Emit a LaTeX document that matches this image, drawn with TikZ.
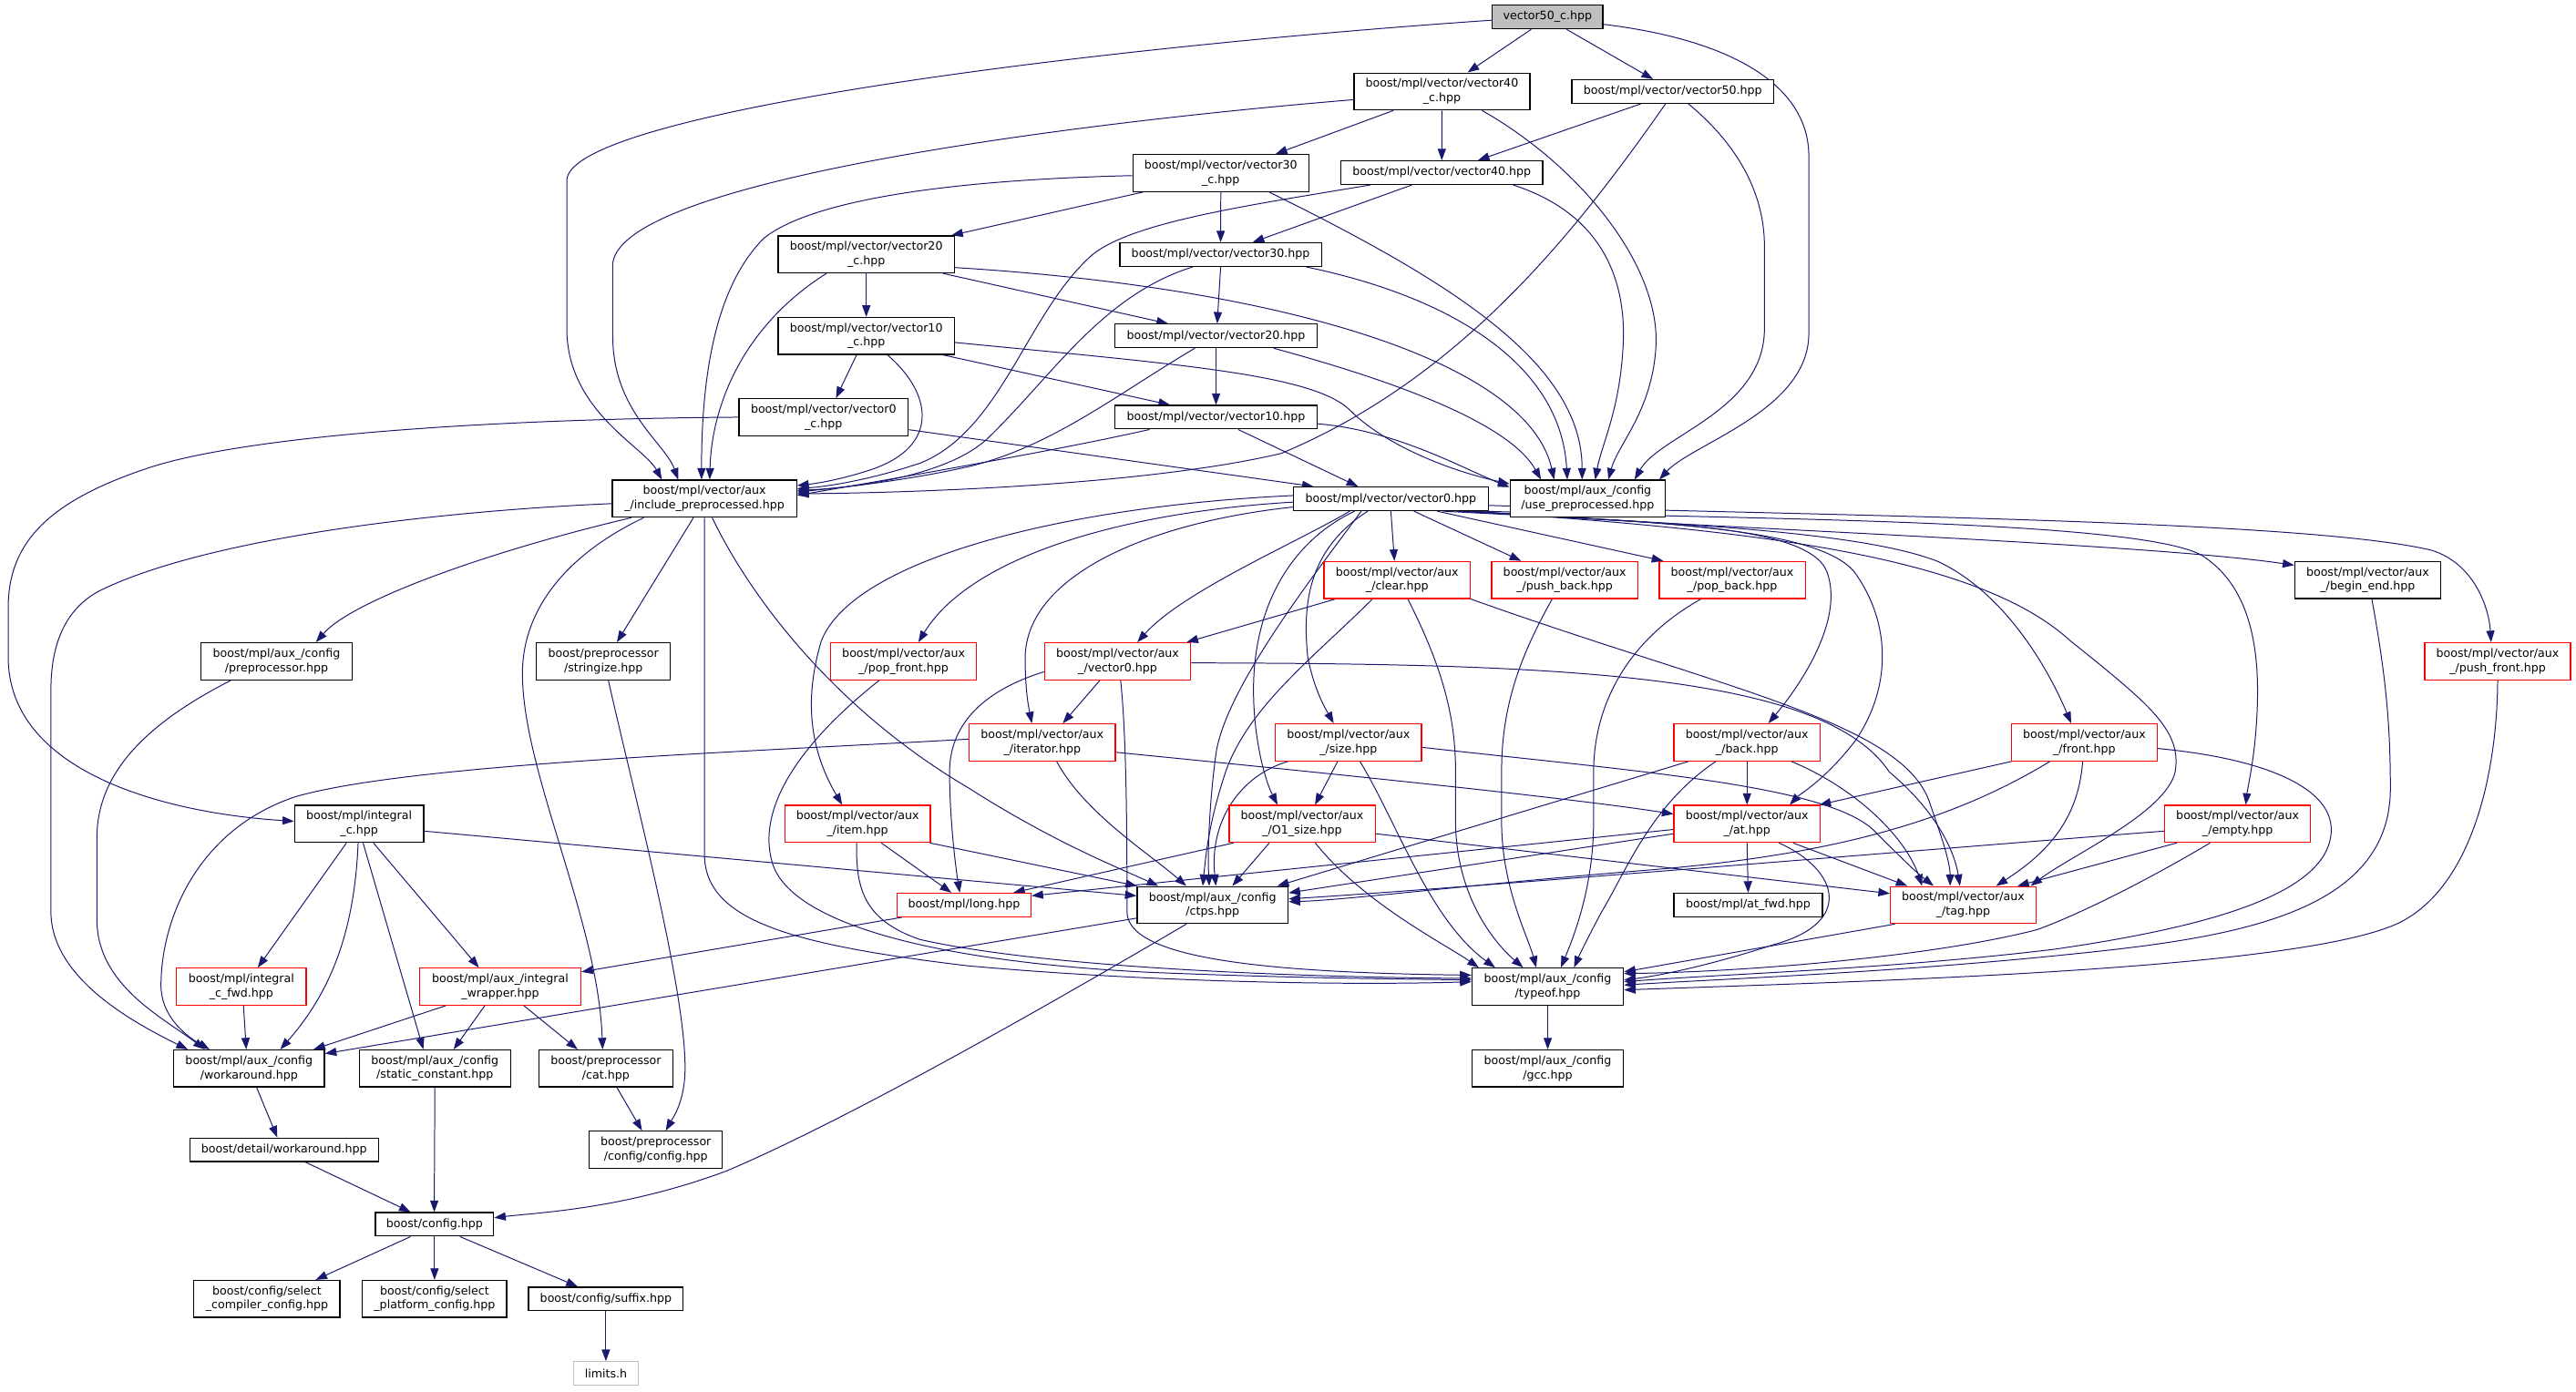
\documentclass[tikz,border=0pt]{standalone}
\usepackage{fontspec}
\newfontfamily\dv{DejaVu Sans}
\usetikzlibrary{arrows.meta,backgrounds}
\definecolor{eb}{RGB}{25,25,112}
\definecolor{rg}{RGB}{191,191,191}
\tikzset{
  nd/.style={draw=black, line width=0.7pt, fill=white, inner sep=0pt, align=center,
    font={\dv\fontsize{7pt}{8.7pt}\selectfont}, minimum height=22.5pt},
  rd/.style={nd, draw=red},
  sg/.style={minimum height=14.3pt},
  ed/.style={draw=eb, line width=0.55pt, -{Triangle[length=7pt,width=5pt]}}
}
\begin{document}
\begin{tikzpicture}[x=1pt,y=-1pt]
\useasboundingbox (0,0) rectangle (1568,847);
% ---------------- nodes ----------------
\node[nd,sg,fill=rg,minimum height=14.5pt,minimum width=67.3pt] (vc50) at (942,10.3) {vector50\_c.hpp};
\node[nd,minimum width=107pt] (vc40) at (877.7,55.7) {boost/mpl/vector/vector40\\\_c.hpp};
\node[nd,sg,minimum width=122.8pt] (v50) at (1018.2,55.7) {boost/mpl/vector/vector50.hpp};
\node[nd,minimum width=107pt] (vc30) at (743.1,105.3) {boost/mpl/vector/vector30\\\_c.hpp};
\node[nd,sg,minimum width=122.8pt] (v40) at (877.6,105.1) {boost/mpl/vector/vector40.hpp};
\node[nd,minimum width=107.3pt] (vc20) at (527.3,154.9) {boost/mpl/vector/vector20\\\_c.hpp};
\node[nd,sg,minimum width=122.8pt] (v30) at (743,155) {boost/mpl/vector/vector30.hpp};
\node[nd,minimum width=107.3pt] (vc10) at (527.3,204.5) {boost/mpl/vector/vector10\\\_c.hpp};
\node[nd,sg,minimum width=122.8pt] (v20) at (740.2,204.5) {boost/mpl/vector/vector20.hpp};
\node[nd,minimum width=103pt] (vc0) at (501.3,254) {boost/mpl/vector/vector0\\\_c.hpp};
\node[nd,sg,minimum width=122.8pt] (v10) at (740.2,254) {boost/mpl/vector/vector10.hpp};
\node[nd,minimum width=112.2pt] (ip) at (428.8,303.6) {boost/mpl/vector/aux\\\_/include\_preprocessed.hpp};
\node[nd,sg,minimum width=118.5pt] (v0) at (846.6,303.7) {boost/mpl/vector/vector0.hpp};
\node[nd,minimum width=94.4pt] (up) at (966.4,303.6) {boost/mpl/aux\_/config\\/use\_preprocessed.hpp};
\node[nd,minimum width=91.9pt] (pre) at (168.3,402.6) {boost/mpl/aux\_/config\\/preprocessor.hpp};
\node[nd,minimum width=81.6pt] (str) at (367.3,402.6) {boost/preprocessor\\/stringize.hpp};
\node[rd,minimum width=88.9pt] (pof) at (550,402.6) {boost/mpl/vector/aux\\\_/pop\_front.hpp};
\node[rd,minimum width=88.9pt] (av0) at (680.3,402.6) {boost/mpl/vector/aux\\\_/vector0.hpp};
\node[rd,minimum width=88.9pt] (clr) at (850.4,353.1) {boost/mpl/vector/aux\\\_/clear.hpp};
\node[rd,minimum width=88.9pt] (pub) at (952.4,353.1) {boost/mpl/vector/aux\\\_/push\_back.hpp};
\node[rd,minimum width=88.9pt] (pob) at (1054.4,353.1) {boost/mpl/vector/aux\\\_/pop\_back.hpp};
\node[nd,minimum width=88.8pt] (be) at (1441.2,353.1) {boost/mpl/vector/aux\\\_/begin\_end.hpp};
\node[rd,minimum width=88.8pt] (puf) at (1520.3,402.6) {boost/mpl/vector/aux\\\_/push\_front.hpp};
\node[rd,minimum width=88.9pt] (itr) at (634.4,452) {boost/mpl/vector/aux\\\_/iterator.hpp};
\node[rd,minimum width=88.9pt] (siz) at (820.8,452) {boost/mpl/vector/aux\\\_/size.hpp};
\node[rd,minimum width=88.9pt] (bck) at (1063.4,452) {boost/mpl/vector/aux\\\_/back.hpp};
\node[rd,minimum width=88.9pt] (frt) at (1268.7,452) {boost/mpl/vector/aux\\\_/front.hpp};
\node[nd,minimum width=78.6pt] (intc) at (218.6,501.6) {boost/mpl/integral\\\_c.hpp};
\node[rd,minimum width=88.6pt] (itm) at (522,501.6) {boost/mpl/vector/aux\\\_/item.hpp};
\node[rd,minimum width=88.9pt] (o1) at (792.6,501.6) {boost/mpl/vector/aux\\\_/O1\_size.hpp};
\node[rd,minimum width=88.9pt] (atn) at (1063.4,501.6) {boost/mpl/vector/aux\\\_/at.hpp};
\node[rd,minimum width=88.9pt] (emp) at (1362,501.6) {boost/mpl/vector/aux\\\_/empty.hpp};
\node[rd,sg,minimum width=81.6pt] (lng) at (586.8,551) {boost/mpl/long.hpp};
\node[nd,minimum width=91.9pt] (ctps) at (738.1,551) {boost/mpl/aux\_/config\\/ctps.hpp};
\node[nd,sg,minimum width=90.4pt] (atf) at (1064.1,551) {boost/mpl/at\_fwd.hpp};
\node[rd,minimum width=88.6pt] (tag) at (1195,551) {boost/mpl/vector/aux\\\_/tag.hpp};
\node[rd,minimum width=78.9pt] (icf) at (146.9,600.7) {boost/mpl/integral\\\_c\_fwd.hpp};
\node[rd,minimum width=98.2pt] (iw) at (304.5,600.7) {boost/mpl/aux\_/integral\\\_wrapper.hpp};
\node[nd,minimum width=92.2pt] (typ) at (942.1,600.7) {boost/mpl/aux\_/config\\/typeof.hpp};
\node[nd,minimum width=91.7pt] (ws) at (151.6,650.5) {boost/mpl/aux\_/config\\/workaround.hpp};
\node[nd,minimum width=92pt] (sc) at (264.7,650.5) {boost/mpl/aux\_/config\\/static\_constant.hpp};
\node[nd,minimum width=81.6pt] (cat) at (368.8,650.5) {boost/preprocessor\\/cat.hpp};
\node[nd,minimum width=92.2pt] (gcc) at (942.1,650.5) {boost/mpl/aux\_/config\\/gcc.hpp};
\node[nd,sg,minimum width=114.8pt] (dws) at (172.9,700) {boost/detail/workaround.hpp};
\node[nd,minimum width=81.1pt] (cfg) at (399.2,700) {boost/preprocessor\\/config/config.hpp};
\node[nd,sg,minimum width=71.9pt] (bcfg) at (264.5,745.4) {boost/config.hpp};
\node[nd,minimum width=88.9pt] (scc) at (162.5,790.8) {boost/config/select\\\_compiler\_config.hpp};
\node[nd,minimum width=87.9pt] (spc) at (264.5,790.8) {boost/config/select\\\_platform\_config.hpp};
\node[nd,sg,minimum width=94.2pt] (suf) at (368.8,790.8) {boost/config/suffix.hpp};
\node[nd,sg,draw=rg,minimum width=39.4pt] (lim) at (368.8,836.2) {limits.h};
% ---------------- edges ----------------
\begin{pgfonlayer}{background}
\fill[white] (0,0) rectangle (1568,847);
% top block
\draw[ed] ([xshift=-10pt]vc50.south) -- ([xshift=15.6pt]vc40.north);
\draw[ed] ([xshift=11.6pt]vc50.south) -- ([xshift=-12pt]v50.north);
\draw[ed] ([yshift=-4.5pt]vc50.east) .. controls (1060,25) and (1101,55) .. (1101,95) -- (1101,203) .. controls (1101,250) and (1030,270) .. ([xshift=43.6pt]up.north);
\draw[ed] ([yshift=-2pt]vc50.west) .. controls (650,30) and (345,70) .. (345,110) -- (345,200) .. controls (345,250) and (392,272) .. ([xshift=-26pt]ip.north);
\draw[ed] (vc40.south) -- (v40.north);
\draw[ed] ([xshift=-29.6pt]vc40.south) -- ([xshift=33.4pt]vc30.north);
\draw[ed] ([yshift=-5pt]vc40.west) .. controls (650,75) and (380,110) .. (373,160) -- (373,205) .. controls (373,250) and (405,270) .. ([xshift=-16pt]ip.north);
\draw[ed] ([xshift=24.4pt]vc40.south) .. controls (960,100) and (1010,160) .. (1008,210) .. controls (1006,250) and (985,270) .. ([xshift=12.6pt]up.north);
\draw[ed] ([xshift=-19.4pt]v50.south) -- ([xshift=22pt]v40.north);
\draw[ed] ([xshift=-4.4pt]v50.south) .. controls (960,140) and (890,230) .. (780,276) .. controls (700,295) and (560,300) .. ([yshift=3pt]ip.east);
\draw[ed] ([xshift=9.5pt]v50.south) .. controls (1060,90) and (1074,120) .. (1074,150) -- (1074,200) .. controls (1074,250) and (1010,265) .. ([xshift=28.6pt]up.north);
\draw[ed] ([xshift=-47.2pt]vc30.south) -- ([xshift=51.8pt]vc20.north);
\draw[ed] (vc30.south) -- (v30.north);
\draw[ed] ([yshift=-1.6pt]vc30.west) .. controls (560,110) and (490,125) .. (465,145) .. controls (435,175) and (427,230) .. ([xshift=-1.8pt]ip.north);
\draw[ed] ([xshift=29.4pt]vc30.south) .. controls (880,170) and (963,220) .. ([xshift=-3.4pt]up.north);
\draw[ed] ([xshift=-18.2pt]v40.south) -- ([xshift=19.5pt]v30.north);
\draw[ed] ([xshift=-43.4pt]v40.south) .. controls (760,125) and (690,135) .. (665,155) .. controls (625,190) and (610,262) .. (560,282) .. controls (530,292) and (505,296) .. ([yshift=6pt]ip.east);
\draw[ed] ([xshift=43.4pt]v40.south) .. controls (975,130) and (990,170) .. (988,210) .. controls (986,250) and (975,270) .. ([xshift=4.6pt]up.north);
\draw[ed] (v30.south) -- ([xshift=0.7pt]v20.north);
\draw[ed] ([xshift=-17pt]v30.south) .. controls (670,180) and (640,230) .. (600,268) .. controls (575,290) and (520,297) .. ([yshift=5pt]ip.east);
\draw[ed] ([xshift=52pt]v30.south) .. controls (880,180) and (950,220) .. ([xshift=-12.4pt]up.north);
\draw[ed] (vc20.south) -- (vc10.north);
\draw[ed] ([xshift=46.8pt]vc20.south) -- ([xshift=-29.2pt]v20.north);
\draw[ed] ([xshift=-24.3pt]vc20.south) .. controls (450,200) and (433,250) .. ([xshift=3.2pt]ip.north);
\draw[ed] ([yshift=-8pt]vc20.east) .. controls (780,175) and (930,220) .. ([xshift=-20.4pt]up.north);
\draw[ed] ([xshift=-5.9pt]vc10.south) -- ([xshift=7.5pt]vc0.north);
\draw[ed] ([xshift=46.8pt]vc10.south) -- ([xshift=-28pt]v10.north);
\draw[ed] ([xshift=12.9pt]vc10.south) .. controls (568,240) and (572,272) .. (530,286) .. controls (515,291) and (500,294) .. ([yshift=8pt]ip.east);
\draw[ed] ([yshift=-4pt]vc10.east) .. controls (720,222) and (800,228) .. (822,250) .. controls (842,270) and (880,286) .. ([yshift=9pt]up.west);
\draw[ed] (v20.south) -- (v10.north);
\draw[ed] ([xshift=-12.9pt]v20.south) .. controls (680,240) and (640,272) .. (590,284) .. controls (550,293) and (510,297) .. ([yshift=4pt]ip.east);
\draw[ed] ([xshift=35pt]v20.south) .. controls (860,235) and (920,260) .. ([xshift=-28.4pt]up.north);
\draw[ed] (vc0.west) .. controls (300,255) and (150,265) .. (90,285) .. controls (30,305) and (5,330) .. (5,370) -- (5,400) .. controls (5,470) and (100,495) .. ([yshift=1.6pt]intc.west);
\draw[ed] ([yshift=-7.6pt]vc0.east) -- ([xshift=-47pt]v0.north);
\draw[ed] ([xshift=13.5pt]v10.south) -- ([xshift=-20pt]v0.north);
\draw[ed] ([xshift=-40.5pt]v10.south) .. controls (640,275) and (540,292) .. ([yshift=2pt]ip.east);
\draw[ed] ([yshift=-4pt]v10.east) .. controls (850,262) and (890,285) .. ([yshift=7pt]up.west);
% include_preprocessed
\draw[ed] ([xshift=-44.5pt]ip.south) .. controls (300,335) and (215,365) .. ([xshift=24pt]pre.north);
\draw[ed] ([xshift=-6.7pt]ip.south) -- ([xshift=8.2pt]str.north);
\draw[ed] ([yshift=-3pt]ip.west) .. controls (250,312) and (120,330) .. (60,360) .. controls (38,372) and (31,395) .. (31,420) -- (31,555) .. controls (31,595) and (80,622) .. ([xshift=-37.3pt]ws.north);
\draw[ed] ([xshift=-37pt]ip.south) .. controls (340,340) and (318,375) .. (318,410) .. controls (318,470) and (364,560) .. ([xshift=-2pt]cat.north);
\draw[ed] (ip.south) -- (428.8,520) .. controls (428.8,560) and (480,575) .. (589,588) .. controls (700,598) and (820,600) .. ([yshift=3pt]typ.west);
\draw[ed] ([xshift=4.7pt]ip.south) .. controls (455,360) and (505,430) .. (590,480) .. controls (640,512) and (680,528) .. ([xshift=-33pt]ctps.north);
% vector0.hpp
\draw[ed] (v0.south) -- ([xshift=-1.6pt]clr.north);
\draw[ed] ([xshift=14pt]v0.south) -- ([xshift=-26.5pt]pub.north);
\draw[ed] ([xshift=28pt]v0.south) -- ([xshift=-42pt]pob.north);
\draw[ed] ([xshift=-8pt]v0.south east) .. controls (1000,320) and (1300,330) .. ([yshift=9pt]be.west);
\draw[ed] ([yshift=-4pt]v0.east) .. controls (1100,314) and (1400,316) .. (1480,335) .. controls (1506,343) and (1515,370) .. ([xshift=-4pt]puf.north);
\draw[ed] ([xshift=-20pt]v0.south east) .. controls (1000,318) and (1130,322) .. (1180,342) .. controls (1222,362) and (1248,410) .. ([xshift=-8pt]frt.north);
\draw[ed] ([xshift=-4pt]v0.south east) .. controls (1050,316) and (1300,316) .. (1340,338) .. controls (1372,358) and (1375,400) .. (1374,430) .. controls (1373,460) and (1368,480) .. ([xshift=5pt]emp.north);
\draw[ed] ([xshift=-12pt]v0.south east) .. controls (1050,322) and (1200,335) .. (1260,390) .. controls (1310,430) and (1328,445) .. (1324,470) .. controls (1318,495) and (1262,520) .. ([xshift=41pt]tag.north);
\draw[ed] ([xshift=-28pt]v0.south east) .. controls (1000,318) and (1100,318) .. (1112,348) .. controls (1122,375) and (1100,412) .. ([xshift=13pt]bck.north);
\draw[ed] ([xshift=-16pt]v0.south east) .. controls (1000,318) and (1110,320) .. (1130,350) .. controls (1152,382) and (1150,420) .. (1130,450) .. controls (1112,474) and (1095,484) .. ([xshift=26pt]atn.north);
\draw[ed] ([yshift=-2pt]v0.west) .. controls (680,312) and (590,340) .. ([xshift=9pt]pof.north);
\draw[ed] ([yshift=2pt]v0.west) .. controls (650,308) and (520,340) .. (500,390) .. controls (488,430) and (495,460) .. ([xshift=-9.4pt]itm.north);
\draw[ed] ([xshift=-25pt]v0.south) .. controls (790,330) and (720,360) .. ([xshift=12pt]av0.north);
\draw[ed] ([yshift=-5pt]v0.west) .. controls (700,318) and (625,350) .. (624,400) .. controls (624,420) and (626,430) .. ([xshift=-6.3pt]itr.north);
\draw[ed] ([xshift=-14pt]v0.south) .. controls (795,335) and (793,370) .. (796,400) .. controls (800,420) and (806,430) .. ([xshift=-9pt]siz.north);
\draw[ed] ([xshift=-22pt]v0.south) .. controls (785,330) and (763,370) .. (763,420) .. controls (763,450) and (770,475) .. ([xshift=-15pt]o1.north);
\draw[ed] ([xshift=-18pt]v0.south) .. controls (800,350) and (745,420) .. (740,460) .. controls (736,490) and (735,520) .. ([xshift=-2pt]ctps.north);
% aux_ files
\draw[ed] ([xshift=-14.8pt]pof.south) .. controls (490,450) and (460,490) .. (470,525) .. controls (480,560) and (560,585) .. (700,592) .. controls (800,596) and (860,596) .. ([yshift=4pt]typ.west);
\draw[ed] ([xshift=-10.8pt]av0.south) -- ([xshift=12.5pt]itr.north);
\draw[ed] ([yshift=-6.4pt]av0.west) .. controls (600,420) and (578,440) .. (578,470) .. controls (578,500) and (582,530) .. ([xshift=-2.6pt]lng.north);
\draw[ed] ([xshift=1.8pt]av0.south) .. controls (686,450) and (686,520) .. (686,555) .. controls (686,582) and (760,592) .. ([yshift=7pt]typ.west);
\draw[ed] ([yshift=-1pt]av0.east) .. controls (950,404) and (1110,410) .. (1150,470) .. controls (1180,495) and (1190,520) .. ([xshift=-2pt]tag.north);
\draw[ed] ([xshift=-37.5pt]clr.south) -- ([xshift=42pt]av0.north);
\draw[ed] ([xshift=-15pt]clr.south) .. controls (800,400) and (760,430) .. (746,470) .. controls (736,500) and (734,520) .. ([xshift=-6pt]ctps.north);
\draw[ed] ([xshift=6.5pt]clr.south) .. controls (880,410) and (886,440) .. (886,470) -- (886,500) .. controls (886,540) and (905,570) .. ([xshift=-15pt]typ.north);
\draw[ed] (clr.south east) .. controls (1050,420) and (1160,440) .. (1175,490) .. controls (1182,510) and (1187,525) .. ([xshift=-8pt]tag.north);
\draw[ed] ([xshift=-7.6pt]pub.south) .. controls (925,400) and (914,430) .. (914,470) -- (914,500) .. controls (914,540) and (930,570) .. ([xshift=-7pt]typ.north);
\draw[ed] ([xshift=-19pt]pob.south) .. controls (990,390) and (970,430) .. (970,470) -- (970,500) .. controls (970,540) and (958,570) .. ([xshift=8pt]typ.north);
\draw[ed] ([xshift=2.5pt]be.south) .. controls (1452,410) and (1455,440) .. (1455,480) .. controls (1455,560) and (1350,572) .. (1250,582) .. controls (1150,592) and (1050,596) .. ([yshift=1pt]typ.east);
\draw[ed] (puf.south) .. controls (1520,470) and (1505,540) .. (1460,562) .. controls (1400,590) and (1150,597) .. ([yshift=-2pt]typ.east);
\draw[ed] ([yshift=-6pt]itr.east) .. controls (800,470) and (950,485) .. ([yshift=6pt]atn.west);
\draw[ed] ([xshift=8.8pt]itr.south) .. controls (660,495) and (700,520) .. ([xshift=-16pt]ctps.north);
\draw[ed] ([yshift=2pt]itr.west) .. controls (450,458) and (250,465) .. (180,485) .. controls (120,505) and (98,560) .. (98,600) .. controls (98,618) and (112,630) .. ([xshift=-24pt]ws.north);
\draw[ed] ([xshift=-6.6pt]siz.south) -- ([xshift=7.8pt]o1.north);
\draw[ed] ([xshift=8pt]siz.south west) .. controls (755,472) and (736,500) .. ([xshift=2pt]ctps.north);
\draw[ed] ([xshift=7pt]siz.south) .. controls (850,500) and (870,560) .. ([xshift=-32pt]typ.north);
\draw[ed] ([yshift=-3pt]siz.east) .. controls (1000,470) and (1110,478) .. (1140,505) .. controls (1155,520) and (1165,530) .. ([xshift=-18pt]tag.north);
\draw[ed] (bck.south) -- (atn.north);
\draw[ed] ([xshift=-35.7pt]bck.south) -- ([xshift=39.4pt]ctps.north);
\draw[ed] ([xshift=27pt]bck.south) .. controls (1130,480) and (1160,510) .. ([xshift=-25pt]tag.north);
\draw[ed] ([xshift=-19pt]bck.south) .. controls (1005,490) and (990,530) .. (975,555) .. controls (968,568) and (962,580) .. ([xshift=16pt]typ.north);
\draw[ed] ([xshift=-44.4pt]frt.south) -- ([xshift=44pt]atn.north);
\draw[ed] ([xshift=-21pt]frt.south) .. controls (1180,505) and (1100,522) .. (1000,530) .. controls (900,538) and (820,548) .. ([yshift=2pt]ctps.east);
\draw[ed] ([xshift=-1pt]frt.south) .. controls (1265,500) and (1245,520) .. ([xshift=20pt]tag.north);
\draw[ed] ([yshift=-3.7pt]frt.east) .. controls (1380,462) and (1419,480) .. (1419,505) .. controls (1419,545) and (1340,565) .. (1250,578) .. controls (1150,590) and (1050,593) .. ([yshift=3pt]typ.east);
\draw[ed] ([xshift=-7.7pt]intc.south) -- ([xshift=10pt]icf.north);
\draw[ed] ([xshift=-0.6pt]intc.south) .. controls (216,560) and (205,600) .. ([xshift=19pt]ws.north);
\draw[ed] ([xshift=2.4pt]intc.south) -- ([xshift=-7pt]sc.north);
\draw[ed] ([xshift=8.7pt]intc.south) -- ([xshift=-13pt]iw.north);
\draw[ed] ([yshift=-4.4pt]intc.east) -- ([yshift=5.6pt]ctps.west);
\draw[ed] ([xshift=14.4pt]itm.south) -- ([xshift=-7.7pt]lng.north);
\draw[ed] ([xshift=44pt]itm.south) -- ([xshift=-46pt]ctps.north);
\draw[ed] ([xshift=-0.6pt]itm.south) .. controls (521,540) and (525,560) .. (560,572) .. controls (640,590) and (800,595) .. ([yshift=5pt]typ.west);
\draw[ed] ([xshift=3pt]o1.south west) -- ([xshift=30pt]lng.north);
\draw[ed] ([xshift=-20pt]o1.south) -- ([xshift=12pt]ctps.north);
\draw[ed] ([xshift=8pt]o1.south) .. controls (830,550) and (880,575) .. ([xshift=-42pt]typ.north);
\draw[ed] ([yshift=-6pt]o1.east) -- ([yshift=7pt]tag.west);
\draw[ed] (atn.south) -- (atf.north);
\draw[ed] ([yshift=-6pt]atn.west) -- ([yshift=7.4pt]ctps.east);
\draw[ed] ([yshift=-3.4pt]atn.west) -- ([yshift=5.6pt]lng.east);
\draw[ed] ([xshift=28pt]atn.south) -- ([xshift=-34pt]tag.north);
\draw[ed] ([xshift=19.5pt]atn.south) .. controls (1120,530) and (1128,562) .. (1080,575) .. controls (1040,588) and (1010,594) .. ([yshift=4pt]typ.east);
\draw[ed] ([yshift=-4.4pt]emp.west) .. controls (1200,515) and (900,540) .. ([yshift=3.7pt]ctps.east);
\draw[ed] ([xshift=-37pt]emp.south) -- ([xshift=33pt]tag.north);
\draw[ed] ([xshift=-16.7pt]emp.south) .. controls (1300,540) and (1262,558) .. (1240,566) .. controls (1170,584) and (1050,592) .. ([yshift=8pt]typ.east);
\draw[ed] ([xshift=-37.8pt]lng.south) -- ([yshift=9pt]iw.east);
\draw[ed] ([yshift=-8pt]ctps.west) -- ([yshift=9pt]ws.east);
\draw[ed] ([xshift=-16pt]ctps.south) .. controls (650,605) and (520,680) .. (442,713) .. controls (380,736) and (330,738) .. ([yshift=4pt]bcfg.east);
\draw[ed] ([xshift=3pt]tag.south west) -- ([yshift=9pt]typ.east);
\draw[ed] (typ.south) -- (gcc.north);
% lower block
\draw[ed] ([xshift=1.3pt]icf.south) -- ([xshift=-1.7pt]ws.north);
\draw[ed] ([xshift=-33.2pt]iw.south) -- ([xshift=39.3pt]ws.north);
\draw[ed] ([xshift=-9.4pt]iw.south) -- ([xshift=11.4pt]sc.north);
\draw[ed] ([xshift=14.4pt]iw.south) -- ([xshift=-17.2pt]cat.north);
\draw[ed] ([xshift=-27.7pt]pre.south) .. controls (90,440) and (59,470) .. (59,510) -- (59,560) .. controls (59,600) and (100,620) .. ([xshift=-27pt]ws.north);
\draw[ed] ([xshift=3pt]str.south) .. controls (385,480) and (417,600) .. (417,650) .. controls (417,670) and (410,680) .. ([xshift=6pt]cfg.north);
\draw[ed] ([xshift=6.7pt]cat.south) -- ([xshift=-8.4pt]cfg.north);
\draw[ed] ([xshift=4.6pt]ws.south) -- ([xshift=-4.1pt]dws.north);
\draw[ed] (sc.south) -- ([xshift=-0.2pt]bcfg.north);
\draw[ed] ([xshift=12.9pt]dws.south) -- ([xshift=-14.6pt]bcfg.north);
\draw[ed] ([xshift=-14.6pt]bcfg.south) -- ([xshift=29.6pt]scc.north);
\draw[ed] (bcfg.south) -- (spc.north);
\draw[ed] ([xshift=15.5pt]bcfg.south) -- ([xshift=-17.2pt]suf.north);
\draw[ed] (suf.south) -- (lim.north);
\end{pgfonlayer}
\end{tikzpicture}
\end{document}
